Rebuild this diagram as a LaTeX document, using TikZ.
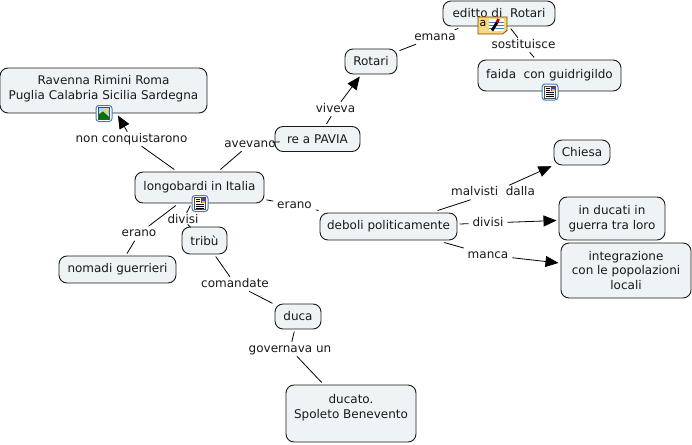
\documentclass[tikz,border=0pt]{standalone}
\usepackage{fontspec}
\setmainfont{DejaVu Sans}
\usetikzlibrary{arrows.meta}
\definecolor{boxfill}{HTML}{EEF3F5}
\definecolor{boxline}{HTML}{1A1A1A}
\definecolor{iconblue}{HTML}{3F7FC8}
\definecolor{noteyellow}{HTML}{F8D878}
\tikzset{
  concept/.style={draw=boxline, fill=boxfill, rounded corners=8, line width=0.9, inner sep=0, align=center, outer sep=2.5, font=\fontsize{12}{14.7}\selectfont, text=black!90},
  linking/.style={inner xsep=3, inner ysep=0.5, outer sep=1, text height=9, text depth=2.5, font=\fontsize{12}{14.7}\selectfont, text=black!90},
  link/.style={line width=0.8, black},
  linkto/.style={link, -{Triangle[length=13,width=11]}},
  imgicon/.pic={
    \draw[iconblue, line width=1, fill=white, rounded corners=3] (-8,-8) rectangle (8,8);
    \fill[blue!45!cyan!35] (-5.5,-6) rectangle (5.5,6);
    \fill[yellow!80!orange] (2,-2.5) circle (2);
    \fill[green!45!black] (-5.5,6) -- (-5.5,1) -- (-1,-2) -- (5.5,4) -- (5.5,6) -- cycle;
    \draw[black!70, line width=0.6] (-5.5,-6) rectangle (5.5,6);
  },
  docicon/.pic={
    \draw[iconblue, line width=1, fill=white, rounded corners=3] (-8,-8) rectangle (8,8);
    \fill[yellow!25] (-5.5,-6) rectangle (5.5,6);
    \fill[blue!50!gray] (0.5,-6) rectangle (5.5,-1);
    \fill[orange!70] (2,-3) rectangle (5,-1);
    \draw[black, line width=0.8] (-4,-4) -- (-0.5,-4) (-4,-2) -- (-0.5,-2) (-4,0.5) -- (4,0.5) (-4,2.5) -- (4,2.5) (-4,4.5) -- (4,4.5);
    \draw[black!70, line width=0.6] (-5.5,-6) rectangle (5.5,6);
  },
  noteicon/.pic={
    \draw[black!50!orange, line width=0.7, fill=noteyellow] (-14.5,-8.5) -- (14.5,-8.5) -- (14.5,5) -- (10,8.5) -- (-14.5,8.5) -- cycle;
    \node (notea) at (-9.5,-2.5) [inner sep=0, font=\fontsize{11}{11}\selectfont] {a};
    \fill[white] (-4,-6.5) rectangle (11,5.5);
    \draw[iconblue, line width=0.8] (-4,-3.5) -- (11,-3.5) (-4,-0.5) -- (11,-0.5) (-4,2.5) -- (11,2.5);
    \draw[black, line width=2.8] (-0.5,5) -- (4.5,-3);
    \draw[red!70!black, line width=2.8] (4.5,-3) -- (6,-6.5);
  }
}
\begin{document}
\begin{tikzpicture}[x=1pt,y=-1pt]
    \useasboundingbox (0,0) rectangle (692,444);
    %Concepts on the left
    \node[concept, minimum width=207, minimum height=45] (ravenna) at (103.5,90.5) {Ravenna Rimini Roma\\Puglia Calabria Sicilia Sardegna\\[-8pt]\mbox{}};
    \node[concept, minimum width=129, minimum height=31] (longobardi) at (199.5,187.5) {\raisebox{3pt}{longobardi in Italia}};
    \node[concept, minimum width=45, minimum height=27] (tribu) at (204.5,240.5) {tribù};
    \node[concept, minimum width=117, minimum height=27] (nomadi) at (117.5,269.5) {nomadi guerrieri};
    \node[concept, minimum width=46, minimum height=25] (duca) at (298,316.5) {duca};
    \node[concept, minimum width=130, minimum height=57] (ducato) at (351,413.5) {ducato.\\Spoleto Benevento\\\mbox{}};
    %Concepts at the top
    \node[concept, minimum width=85, minimum height=25] (pavia) at (317.5,139) {re a PAVIA};
    \node[concept, minimum width=52, minimum height=25] (rotari) at (371,61.5) {Rotari};
    \node[concept, minimum width=112, minimum height=25] (editto) at (499,13.5) {editto di\ \ Rotari};
    \node[concept, minimum width=143, minimum height=31] (faida) at (549.5,75.5) {\raisebox{3pt}{faida\ \ con guidrigildo}};
    %Concepts on the right
    \node[concept, minimum width=137, minimum height=27] (deboli) at (388.5,226.5) {deboli politicamente};
    \node[concept, minimum width=56, minimum height=25] (chiesa) at (582,152.5) {Chiesa};
    \node[concept, minimum width=106, minimum height=43] (ducati) at (612,218.5) {in ducati in\\guerra tra loro};
    \node[concept, minimum width=130, minimum height=55] (integrazione) at (626,270.5) {integrazione\\con le popolazioni\\locali};
    %Linking phrases
    \node[linking] (lnon) at (131.5,139) {non conquistarono};
    \node[linking] (lavevano) at (250,144) {avevano};
    \node[linking] (lviveva) at (335.5,109) {viveva};
    \node[linking] (lemana) at (435,37) {emana};
    \node[linking] (lsost) at (523.5,45) {sostituisce};
    \node[linking] (lerano) at (139,233.5) {erano};
    \node[linking] (ldivisi) at (183,220) {divisi};
    \node[linking] (lerano2) at (294.5,205) {erano};
    \node[linking] (lmalvisti) at (493,192.5) {malvisti\ \ dalla};
    \node[linking] (ldivisi2) at (488,223) {divisi};
    \node[linking] (lmanca) at (488,255) {manca};
    \node[linking] (lcomandate) at (235,284) {comandate};
    \node[linking] (lgoverna) at (290,349) {governava un};
    %Towards Ravenna
    \draw[link] (longobardi) -- (lnon);
    \draw[linkto] (lnon) -- (ravenna);
    %Towards Rotari
    \draw[link] (longobardi) -- (lavevano);
    \draw[link] (lavevano) -- (pavia);
    \draw[link] (pavia) -- (lviveva);
    \draw[linkto] (lviveva) -- (rotari);
    \draw[link] (rotari) -- (lemana);
    \draw[link] (lemana) -- (editto);
    \draw[link] (editto) -- (lsost);
    \draw[link] (lsost) -- (faida);
    %Downwards
    \draw[link] (longobardi) -- (lerano);
    \draw[link] (lerano) -- (nomadi);
    \draw[link] (longobardi) -- (ldivisi);
    \draw[link] (ldivisi) -- (tribu);
    \draw[link] (tribu) -- (lcomandate);
    \draw[link] (lcomandate) -- (duca);
    \draw[link] (duca) -- (lgoverna);
    \draw[link] (lgoverna) -- (ducato);
    %Towards the right
    \draw[link] (longobardi) -- (lerano2);
    \draw[link] (lerano2) -- (deboli);
    \draw[link] (deboli) -- (lmalvisti);
    \draw[linkto] (lmalvisti) -- (chiesa);
    \draw[link] (deboli) -- (ldivisi2);
    \draw[linkto] (ldivisi2) -- (ducati);
    \draw[link] (deboli) -- (lmanca);
    \draw[linkto] (lmanca) -- (integrazione);
    %Icons
    \pic at (104,113.5) {imgicon};
    \pic at (200,203.5) {docicon};
    \pic at (550,92) {docicon};
    \pic at (492.5,25.5) {noteicon};
\end{tikzpicture}
\end{document}
